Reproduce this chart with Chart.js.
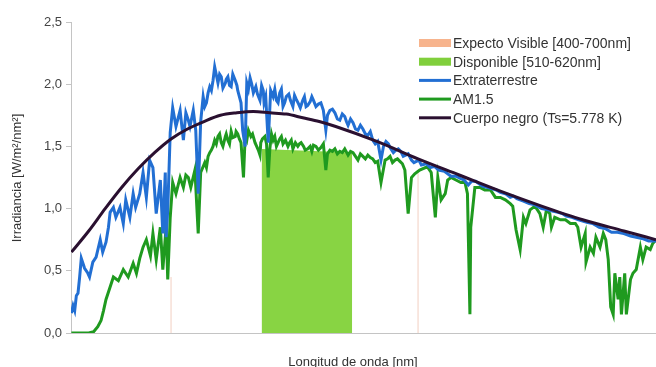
<!DOCTYPE html>
<html>
<head>
<meta charset="utf-8">
<script src="https://cdn.jsdelivr.net/npm/chart.js@4.4.1/dist/chart.umd.min.js"></script>
<style>
  html, body { margin: 0; padding: 0; background: #ffffff; }
  #wrap { width: 656px; height: 367px; }
</style>
</head>
<body>
<div id="wrap"><canvas id="c" width="656" height="367"></canvas></div>
<script>
// Wavelength range shown on the x axis (nm)
const xRange = [278.5, 989];

// Y axis ticks (W/m²/nm)
const yTicks = [0, 0.5, 1.0, 1.5, 2.0, 2.5];

// Series labels (legend order)
const labels = [
  'Expecto Visible [400-700nm]',
  'Disponible [510-620nm]',
  'Extraterrestre',
  'AM1.5',
  'Cuerpo negro (Ts=5.778 K)'
];

// Visible spectrum limits [nm, height]
const visibleEdges = [[400, 0.45], [700, 1.30]];

// Usable band 510-620 nm [nm, height]
const dispBand = [[510, 1.48], [620, 1.45]];

// Extraterrestrial spectrum [nm, W/m²/nm]
const extraSpectrum = [
  [279,0.16],[281,0.22],[283,0.18],[285,0.30],[287,0.32],[289,0.45],[291,0.60],[295,0.52],[299,0.48],[301,0.45],
  [305,0.57],[309,0.61],[314,0.75],[317,0.65],[321,0.73],[324,0.85],[326,0.97],[330,1.01],[333,0.93],[338,1.01],
  [342,0.88],[345,1.07],[350,0.93],[354,1.12],[357,1.01],[362,1.12],[366,1.29],[370,1.09],[374,1.39],[378,1.33],
  [382,0.96],[387,1.23],[390,0.80],[393,1.29],[394,0.77],[396,0.99],[399,1.61],[402,1.81],[406,1.66],[411,1.79],
  [415,1.55],[418,1.77],[421,1.71],[423,1.66],[427,1.79],[430,1.63],[433,1.12],[436,1.70],[439,1.90],[441,1.82],
  [443,1.85],[445,1.93],[447,1.98],[449,1.95],[451,2.03],[453,2.14],[457,2.01],[459,2.08],[461,2.06],[463,1.97],
  [466,2.01],[467,2.04],[469,2.06],[471,1.99],[473,1.98],[475,2.08],[478,2.03],[480,1.99],[481,1.95],[483,1.90],
  [485,1.85],[487,1.63],[490,1.50],[492,2.01],[494,1.96],[496,2.05],[498,2.00],[500,1.93],[503,1.98],[505,1.92],
  [508,1.87],[510,1.99],[512,1.95],[513,1.85],[515,1.90],[518,1.53],[521,1.95],[524,1.90],[526,1.96],[528,1.87],
  [530,1.85],[532,1.93],[534,1.96],[536,1.82],[538,1.85],[540,1.90],[543,1.92],[545,1.87],[548,1.82],[550,1.91],
  [552,1.88],[555,1.84],[557,1.81],[560,1.87],[562,1.90],[564,1.82],[566,1.83],[569,1.86],[571,1.90],[573,1.87],
  [576,1.82],[579,1.84],[582,1.85],[585,1.79],[588,1.63],[590,1.75],[593,1.79],[596,1.80],[599,1.77],[602,1.72],
  [605,1.71],[608,1.76],[611,1.74],[613,1.70],[615,1.67],[618,1.72],[621,1.69],[624,1.64],[627,1.63],[630,1.67],
  [633,1.64],[636,1.60],[639,1.59],[642,1.62],[645,1.55],[648,1.52],[651,1.54],[655,1.39],[658,1.50],[661,1.54],
  [664,1.52],[666,1.49],[670,1.45],[673,1.47],[676,1.48],[679,1.46],[682,1.42],[685,1.43],[688,1.44],[692,1.39],
  [695,1.37],[698,1.38],[701,1.39],[704,1.35],[710,1.36],[715,1.33],[720,1.34],[725,1.31],[732,1.30],[740,1.26],
  [746,1.26],[752,1.24],[756,1.23],[761,1.19],[765,1.22],[770,1.22],[778,1.18],[785,1.17],[790,1.16],[795,1.15],
  [800,1.13],[806,1.12],[812,1.09],[816,1.10],[820,1.08],[828,1.06],[835,1.04],[842,1.03],[850,1.00],[858,0.99],
  [863,0.98],[870,0.97],[875,0.96],[880,0.94],[887,0.93],[895,0.91],[900,0.90],[905,0.89],[912,0.88],[920,0.85],
  [927,0.84],[935,0.81],[942,0.81],[950,0.80],[958,0.78],[965,0.77],[972,0.76],[980,0.74],[985,0.74],[989,0.74]
];

// AM1.5 ground-level spectrum [nm, W/m²/nm]
const am15Spectrum = [
  [279,0],[290,0],[300,0],[306,0.01],[311,0.05],[315,0.10],[318,0.18],[321,0.27],[326,0.37],[330,0.45],
  [336,0.42],[342,0.51],[348,0.45],[354,0.56],[358,0.48],[362,0.60],[366,0.69],[370,0.75],[375,0.62],[378,0.80],
  [382,0.59],[387,0.85],[390,0.51],[394,0.85],[396,0.43],[399,0.93],[402,1.21],[406,1.12],[411,1.25],[415,1.17],
  [418,1.27],[421,1.25],[424,1.17],[429,1.31],[433,0.80],[436,1.29],[441,1.37],[443,1.33],[445,1.42],[447,1.45],
  [449,1.47],[451,1.50],[453,1.55],[455,1.52],[457,1.58],[459,1.60],[461,1.53],[463,1.50],[466,1.58],[467,1.60],
  [469,1.55],[471,1.52],[473,1.62],[475,1.57],[478,1.58],[479,1.62],[481,1.60],[483,1.56],[485,1.53],[488,1.25],
  [490,1.58],[492,1.55],[494,1.63],[497,1.58],[499,1.60],[502,1.53],[504,1.50],[506,1.47],[508,1.43],[509,1.53],
  [511,1.56],[514,1.58],[516,1.52],[518,1.25],[520,1.48],[522,1.60],[524,1.55],[526,1.58],[528,1.50],[530,1.53],
  [532,1.56],[534,1.58],[536,1.52],[539,1.55],[542,1.50],[544,1.53],[546,1.55],[548,1.48],[551,1.53],[554,1.50],
  [556,1.52],[558,1.53],[561,1.50],[563,1.47],[566,1.48],[569,1.50],[571,1.46],[573,1.51],[576,1.50],[579,1.47],
  [582,1.49],[585,1.52],[588,1.31],[590,1.44],[593,1.47],[596,1.46],[599,1.48],[602,1.44],[605,1.46],[608,1.45],
  [611,1.48],[615,1.43],[618,1.46],[621,1.45],[624,1.42],[627,1.39],[630,1.44],[633,1.42],[636,1.40],[639,1.43],
  [642,1.41],[645,1.40],[648,1.37],[651,1.38],[655,1.21],[660,1.39],[663,1.40],[666,1.42],[669,1.37],[672,1.39],
  [675,1.40],[678,1.38],[681,1.36],[684,1.31],[688,0.96],[692,1.25],[696,1.28],[702,1.31],[709,1.33],[712,1.33],
  [716,1.29],[721,0.93],[724,1.25],[728,1.07],[733,1.12],[736,1.23],[740,1.25],[746,1.23],[752,1.21],[757,1.21],
  [760,1.12],[763,0.15],[764,0.85],[769,1.17],[775,1.17],[781,1.15],[788,1.15],[794,1.09],[800,1.09],[806,1.07],
  [812,1.04],[815,1.02],[819,0.83],[824,0.67],[828,0.93],[831,0.88],[836,0.99],[842,1.02],[848,0.96],[852,0.85],
  [856,0.99],[860,0.96],[862,0.85],[866,0.93],[873,0.91],[879,0.91],[885,0.88],[891,0.88],[894,0.85],[898,0.69],
  [903,0.80],[904,0.57],[909,0.69],[913,0.64],[916,0.77],[921,0.69],[925,0.80],[928,0.75],[931,0.59],[934,0.21],
  [937,0.15],[939,0.48],[943,0.27],[945,0.45],[947,0.15],[951,0.48],[953,0.15],[958,0.43],[961,0.48],[965,0.51],
  [970,0.69],[973,0.59],[977,0.69],[982,0.67],[985,0.72],[989,0.75]
];

// Black body curve, Ts = 5.778 K [nm, W/m²/nm]
const blackBody = [
  [279,0.65],[300,0.82],[320,1.00],[340,1.17],[360,1.32],[380,1.45],[400,1.56],[420,1.64],[440,1.70],[460,1.75],
  [480,1.77],[500,1.78],[520,1.77],[540,1.76],[560,1.73],[580,1.70],[600,1.66],[650,1.54],[700,1.40],[750,1.27],
  [800,1.14],[850,1.02],[900,0.91],[950,0.82],[989,0.75]
];

const toPoints = rows => rows.map(r => ({ x: r[0], y: r[1] }));

// Vertical edges of the visible range, separated by a gap
const visibleData = [
  { x: visibleEdges[0][0], y: 0 }, { x: visibleEdges[0][0], y: visibleEdges[0][1] },
  { x: (visibleEdges[0][0] + visibleEdges[1][0]) / 2, y: null },
  { x: visibleEdges[1][0], y: 0 }, { x: visibleEdges[1][0], y: visibleEdges[1][1] }
];

const FONT = '"Liberation Sans", Arial, sans-serif';

// Legend inside the plot plus the two axis titles
const overlay = {
  id: 'overlay',
  afterDraw(chart) {
    const ctx = chart.ctx;
    ctx.save();
    ctx.font = '14px ' + FONT;
    ctx.textBaseline = 'middle';
    ctx.textAlign = 'left';
    chart.data.datasets.forEach((ds, i) => {
      const y = 43 + i * 18.7;
      if (ds.legendKind === 'box') {
        ctx.fillStyle = ds.legendColor;
        ctx.fillRect(419, y - 4, 32, 8);
      } else {
        ctx.strokeStyle = ds.borderColor;
        ctx.lineWidth = 3;
        ctx.beginPath();
        ctx.moveTo(419, y);
        ctx.lineTo(451, y);
        ctx.stroke();
      }
      ctx.fillStyle = '#333333';
      ctx.fillText(ds.label, 453, y + 1);
    });

    ctx.font = '13px ' + FONT;
    ctx.fillStyle = '#333333';
    ctx.textAlign = 'center';
    ctx.fillText('Longitud de onda [nm]', 353, 362);

    ctx.translate(17, 178);
    ctx.rotate(-Math.PI / 2);
    ctx.fillText('Irradiancia [W/m\u00B2/nm\u00B2]', 0, 0);
    ctx.restore();
  }
};

new Chart(document.getElementById('c'), {
  type: 'line',
  data: {
    datasets: [
      {
        label: labels[0], data: visibleData, legendKind: 'box', legendColor: '#f7b48d',
        borderColor: '#f2cfc2', borderWidth: 1, pointRadius: 0, spanGaps: false, order: 4
      },
      {
        label: labels[1], data: toPoints(dispBand), legendKind: 'box', legendColor: '#80cf3c',
        borderWidth: 0, borderColor: 'rgba(0,0,0,0)', backgroundColor: '#88d443',
        fill: 'origin', pointRadius: 0, order: 5
      },
      {
        label: labels[2], data: toPoints(extraSpectrum), legendKind: 'line',
        borderColor: '#226fd3', borderWidth: 3, pointRadius: 0, tension: 0, order: 2
      },
      {
        label: labels[3], data: toPoints(am15Spectrum), legendKind: 'line',
        borderColor: '#1f9a1f', borderWidth: 3, pointRadius: 0, tension: 0, order: 3
      },
      {
        label: labels[4], data: toPoints(blackBody), legendKind: 'line',
        borderColor: '#2a1030', borderWidth: 3, pointRadius: 0, cubicInterpolationMode: 'monotone', order: 1
      }
    ]
  },
  options: {
    responsive: false,
    animation: false,
    events: [],
    layout: { padding: { top: 22, right: 0, bottom: 0, left: 0 } },
    plugins: { legend: { display: false }, tooltip: { enabled: false } },
    scales: {
      x: {
        type: 'linear',
        min: xRange[0], max: xRange[1],
        ticks: { display: false },
        grid: { display: false },
        border: { display: true, color: '#c4c4c4', width: 1 },
        afterFit(scale) { scale.height = 34; }
      },
      y: {
        min: yTicks[0], max: yTicks[yTicks.length - 1],
        afterBuildTicks(scale) { scale.ticks = yTicks.map(v => ({ value: v })); },
        ticks: {
          padding: 4,
          color: '#444444',
          font: { family: FONT, size: 13 },
          callback: v => v.toFixed(1).replace('.', ',')
        },
        grid: { display: true, drawOnChartArea: false, drawTicks: true, tickLength: 5, color: '#c4c4c4' },
        border: { display: true, color: '#c4c4c4', width: 1 },
        afterFit(scale) { scale.width = 71; }
      }
    }
  },
  plugins: [overlay]
});
</script>
</body>
</html>
